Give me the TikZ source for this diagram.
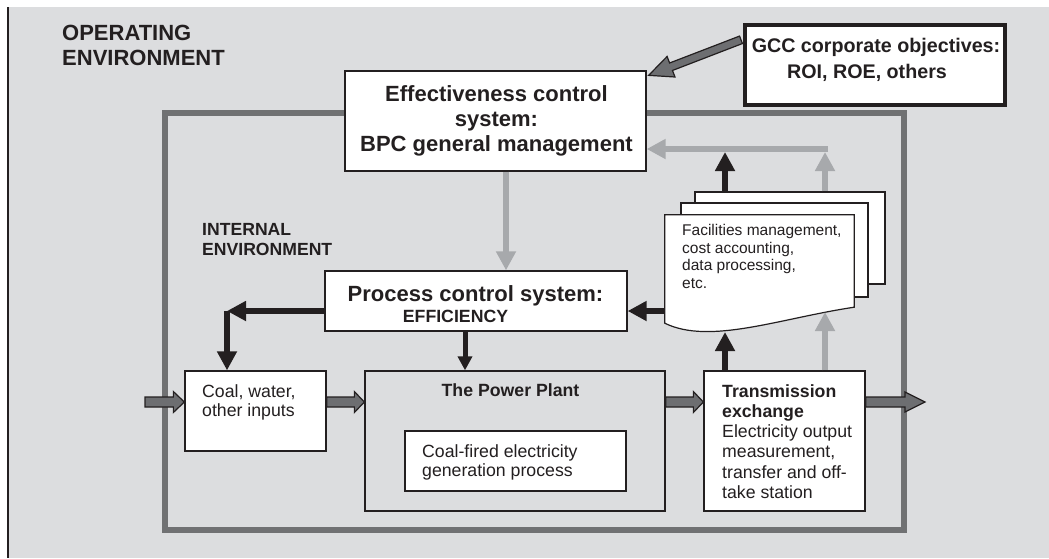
\documentclass[tikz,border=0pt]{standalone}
\usepackage{fontspec}
\setmainfont{Liberation Sans}
\usetikzlibrary{arrows.meta,calc}
\definecolor{bgc}{HTML}{DCDDDF}
\definecolor{framec}{HTML}{707173}
\definecolor{lgray}{HTML}{A7A9AC}
\definecolor{dark}{HTML}{231F20}
\definecolor{fatc}{HTML}{6D6E71}
\newcommand\fatarr[5]{%
  \coordinate (faS) at (#1);
  \coordinate (faE) at (#2);
  \coordinate (faH) at ($(faE)!#5!(faS)$);
  \draw[fat] ($(faS)!#3!90:(faE)$) -- ($(faH)!#3!90:(faE)$) -- ($(faH)!#4!90:(faE)$) -- (faE)
    -- ($(faH)!#4!-90:(faE)$) -- ($(faH)!#3!-90:(faE)$) -- ($(faS)!#3!-90:(faE)$) -- cycle;
}
\begin{document}
\begin{tikzpicture}[x=1pt,y=-1pt,
  every node/.append style={text=dark},
  box/.style={draw=dark, line width=1.3pt, fill=white, inner sep=0pt},
  page/.style={draw=dark, line width=1.2pt, fill=white},
  blk/.style={draw=dark, line width=6pt, -{Triangle[width=19pt,length=19pt]}},
  blks/.style={draw=dark, line width=5pt, -{Triangle[width=14pt,length=14pt]}},
  gry/.style={draw=lgray, line width=6pt, -{Triangle[width=19pt,length=19pt]}},
  fat/.style={draw=dark, line width=1.2pt, fill=fatc, line join=miter},
  txt/.style={inner sep=0pt},
]
\useasboundingbox (0,0) rectangle (1049,558);
\fill[bgc] (8,7) rectangle (1049,558);
\draw[dark, line width=1.3pt] (8,7) -- (8,558);
\draw[framec, line width=6pt] (165,113) rectangle (904,530);

% boxes
\node[box, minimum width=301pt, minimum height=100pt] (eff) at (495.5,121) {};
\node[box, line width=4pt, minimum width=260pt, minimum height=80pt] (gcc) at (875,65) {};
\node[box, minimum width=302pt, minimum height=60pt] (pc) at (476,301) {};
\node[box, minimum width=141pt, minimum height=80pt] (coal) at (255.5,411) {};
\node[box, fill=none, minimum width=300pt, minimum height=140pt] (plant) at (515,441) {};
\node[box, minimum width=221pt, minimum height=60pt] (gen) at (515.5,461) {};
\node[box, minimum width=161pt, minimum height=140pt] (trans) at (784.5,441) {};
\node[page, minimum width=190pt, minimum height=92pt, inner sep=0pt] (back) at (790,238) {};
\node[page, minimum width=187pt, minimum height=94pt, inner sep=0pt] (mid) at (774.5,250) {};
\node[inner sep=0pt, minimum width=189pt, minimum height=92pt] (front) at (759.5,261) {};
\draw[page] (front.north west) -- (front.north east) -- (front.south east)
  .. controls +(-74,11) and +(45,22) .. ($(front.south west)+(0,16)$) -- cycle;

% texts
\node[txt, font=\fontsize{22}{25}\selectfont\bfseries, anchor=west, align=left] (opt) at (62,45.6) {OPERATING\\ENVIRONMENT};
\node[txt, font=\fontsize{17.6}{20}\selectfont\bfseries, anchor=west, align=left] (intt) at (202,240) {INTERNAL\\ENVIRONMENT};
\node[txt, font=\fontsize{22}{25}\selectfont\bfseries, align=center] (efft) at (496.5,121) {Effectiveness control\\system:\\BPC general management};
\node[txt, font=\fontsize{19.7}{26.3}\selectfont\bfseries, align=center] (gcct) at (876,60) {GCC corporate objectives:\\ROI, ROE, others\hspace*{18pt}};
\node[txt, font=\fontsize{22}{25}\selectfont\bfseries, anchor=base] (pct1) at (475.5,301.5) {Process control system:};
\node[txt, font=\fontsize{17.7}{20}\selectfont\bfseries, anchor=base] (pct2) at (455.5,322) {EFFICIENCY};
\node[txt, font=\fontsize{17.7}{19}\selectfont, anchor=west, align=left] (coalt) at (202,402.6) {Coal, water,\\other inputs};
\node[txt, font=\fontsize{17.7}{20}\selectfont\bfseries, anchor=base] (plantt) at (510.5,396) {The Power Plant};
\node[txt, font=\fontsize{17.7}{19.4}\selectfont, anchor=west, align=left] (gent) at (422,462.4) {Coal-fired electricity\\generation process};
\node[txt, font=\fontsize{17.7}{20.2}\selectfont, anchor=west, align=left] (transt) at (722,441.5) {\textbf{Transmission}\\\textbf{exchange}\\Electricity output\\measurement,\\transfer and off-\\take station};
\node[txt, font=\fontsize{15.5}{17.4}\selectfont, anchor=west, align=left] (doct) at (682,256.4) {Facilities management,\\cost accounting,\\data processing,\\etc.};

% helper coordinates
\coordinate (xa) at (725,0);
\coordinate (xb) at (825,0);
\coordinate (xe) at (506,0);
\coordinate (xp) at (465,0);
\coordinate (fb) at (0,152);
\coordinate (fbc) at (828,149);
\coordinate (dbA) at (725,332);
\coordinate (dbB) at (825,312);
\coordinate (ly) at (0,311);
\coordinate (corner) at (227,311);
\coordinate (inL) at (145,402);
\coordinate (outR) at (925,402);

% connectors
\draw[gry] (fbc) -- (fbc -| eff.east);
\draw[gry] (back.north -| xb) -- (xb |- fb);
\draw[blk] (back.north -| xa) -- (xa |- fb);
\draw[gry] (trans.north -| xb) -- (dbB);
\draw[blk] (trans.north -| xa) -- (dbA);
\draw[blk] (front.west |- ly) -- (pc.east |- ly);
\draw[gry] (eff.south -| xe) -- (pc.north -| xe);
\draw[blks] (pc.south -| xp) -- (plant.north -| xp);
\draw[blk] (pc.west |- ly) -- (corner);
\draw[blk] (corner) -- (corner |- coal.north);

% fat arrows
\fatarr{inL}{coal.west |- inL}{5pt}{10.5pt}{11pt}
\fatarr{coal.east |- inL}{plant.west |- inL}{5pt}{10.5pt}{10pt}
\fatarr{plant.east |- inL}{trans.west |- inL}{5pt}{10.5pt}{10pt}
\fatarr{trans.east |- inL}{outR}{5pt}{10pt}{20pt}
\fatarr{$(gcc.north west)!0.2!(gcc.south west)+(-2,0)$}{$(eff.north east)+(2,5)$}{4pt}{11pt}{24pt}
\end{tikzpicture}
\end{document}
